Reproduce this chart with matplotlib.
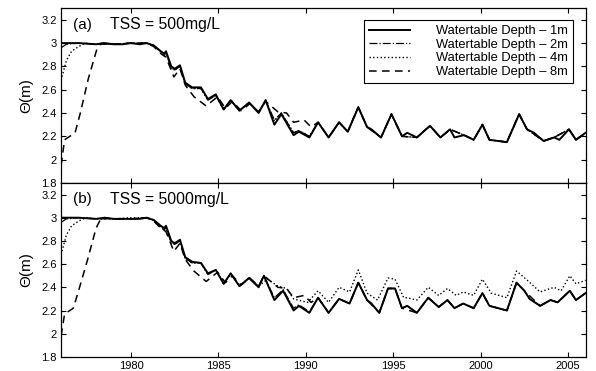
import matplotlib
matplotlib.use("Agg")
import matplotlib.pyplot as plt

plt.rcParams['font.family'] = ['Liberation Sans', 'DejaVu Sans']

# ---------------- data ----------------
# Panel (a) TSS = 500 mg/L
t_a_1m = [1976.0, 1977.0, 1978.0, 1978.5, 1979.0, 1979.5, 1980.0, 1980.5, 1980.9, 1981.3,
          1981.7, 1981.9, 1982.0, 1982.3, 1982.5, 1982.8, 1983.1, 1983.5, 1984.0, 1984.4,
          1984.85, 1985.3, 1985.7, 1986.2, 1986.75, 1987.3, 1987.7, 1988.2, 1988.6, 1989.3,
          1989.6, 1990.2, 1990.7, 1991.3, 1991.9, 1992.4, 1993.0, 1993.5, 1993.75, 1994.3,
          1994.9, 1995.5, 1995.8, 1996.35, 1997.1, 1997.7, 1998.25, 1998.5, 1999.05, 1999.6,
          2000.1, 2000.5, 2001.5, 2002.2, 2002.65, 2003.05, 2003.6, 2004.2, 2004.5, 2005.05,
          2005.45, 2006.0]
v_a_1m = [3.00, 3.00, 2.99, 3.00, 2.99, 2.99, 3.00, 2.99, 3.00, 2.98,
          2.93, 2.91, 2.93, 2.80, 2.78, 2.81, 2.66, 2.62, 2.62, 2.52,
          2.56, 2.43, 2.51, 2.42, 2.49, 2.40, 2.51, 2.30, 2.39, 2.21,
          2.24, 2.19, 2.32, 2.19, 2.32, 2.24, 2.45, 2.28, 2.26, 2.19,
          2.39, 2.20, 2.23, 2.19, 2.29, 2.19, 2.26, 2.19, 2.21, 2.17,
          2.30, 2.17, 2.15, 2.39, 2.26, 2.23, 2.16, 2.19, 2.17, 2.26,
          2.17, 2.23]

t_a_2m = [1976.0, 1976.3, 1977.0, 1978.0, 1979.0, 1980.0, 1980.9, 1981.3, 1981.7, 1981.9,
          1982.0, 1982.3, 1982.5, 1982.8, 1983.1, 1983.5, 1984.0, 1984.4, 1984.85, 1985.3,
          1985.7, 1986.2, 1986.75, 1987.3, 1987.7, 1988.2, 1988.6, 1989.3, 1989.6, 1990.2,
          1990.7, 1991.3, 1991.9, 1992.4, 1993.0, 1993.5, 1994.3, 1994.9, 1995.5, 1996.35,
          1997.1, 1997.7, 1998.25, 1999.05, 1999.6, 2000.1, 2000.5, 2001.5, 2002.2, 2002.65,
          2003.6, 2004.2, 2005.05, 2005.45, 2006.0]
v_a_2m = [2.96, 2.99, 3.00, 2.99, 2.99, 3.00, 3.00, 2.98, 2.92, 2.89,
          2.92, 2.78, 2.77, 2.80, 2.65, 2.61, 2.61, 2.51, 2.55, 2.43,
          2.51, 2.42, 2.49, 2.41, 2.51, 2.34, 2.40, 2.23, 2.25, 2.20,
          2.32, 2.19, 2.32, 2.24, 2.45, 2.28, 2.19, 2.39, 2.20, 2.19,
          2.29, 2.19, 2.26, 2.21, 2.17, 2.30, 2.17, 2.15, 2.39, 2.26,
          2.16, 2.19, 2.26, 2.17, 2.23]

t_a_4m = [1976.0, 1976.3, 1976.6, 1977.0, 1977.4, 1978.0, 1979.0, 1980.0, 1980.9, 1981.3,
          1981.7, 1981.9, 1982.0, 1982.3, 1982.5, 1982.8, 1983.1, 1983.5, 1984.0, 1984.4,
          1984.85, 1985.3, 1985.7, 1986.2, 1986.75, 1987.3, 1987.7, 1988.2, 1988.6, 1989.3,
          1989.6, 1990.2, 1990.7, 1991.3, 1991.9, 1992.4, 1993.0, 1993.5, 1994.3, 1994.9,
          1995.5, 1996.35, 1997.1, 1997.7, 1998.25, 1999.05, 1999.6, 2000.1, 2000.5, 2001.5,
          2002.2, 2002.65, 2003.6, 2004.2, 2005.05, 2005.45, 2006.0]
v_a_4m = [2.68, 2.85, 2.93, 2.97, 3.00, 2.99, 2.99, 3.00, 3.00, 2.98,
          2.93, 2.91, 2.93, 2.79, 2.77, 2.80, 2.65, 2.61, 2.61, 2.51,
          2.55, 2.43, 2.51, 2.42, 2.49, 2.41, 2.51, 2.33, 2.40, 2.23,
          2.25, 2.20, 2.32, 2.19, 2.32, 2.24, 2.45, 2.28, 2.19, 2.39,
          2.20, 2.19, 2.29, 2.19, 2.26, 2.21, 2.17, 2.30, 2.17, 2.15,
          2.39, 2.26, 2.16, 2.19, 2.26, 2.17, 2.23]

t_a_8m = [1976.0, 1976.2, 1976.5, 1976.8, 1977.1, 1977.55, 1978.05, 1978.3, 1979.0, 1980.0,
          1980.9, 1981.3, 1981.7, 1982.0, 1982.45, 1982.8, 1983.1, 1983.6, 1984.3, 1984.95,
          1985.4, 1985.8, 1986.3, 1986.8, 1987.3, 1987.7, 1988.4, 1988.9, 1989.3, 1989.9,
          1990.3, 1990.7, 1991.3, 1991.9, 1992.4, 1993.0, 1993.5, 1994.3, 1994.9, 1995.5,
          1996.35, 1997.1, 1997.7, 1998.25, 1999.05, 1999.6, 2000.1, 2000.5, 2001.5, 2002.2,
          2002.65, 2003.6, 2004.2, 2005.05, 2005.45, 2006.0]
v_a_8m = [1.95, 2.17, 2.20, 2.23, 2.40, 2.69, 2.95, 3.00, 2.99, 3.00,
          3.00, 2.97, 2.91, 2.88, 2.71, 2.78, 2.64, 2.54, 2.46, 2.54,
          2.44, 2.50, 2.42, 2.48, 2.41, 2.50, 2.41, 2.40, 2.32, 2.34,
          2.28, 2.32, 2.19, 2.32, 2.24, 2.45, 2.28, 2.19, 2.39, 2.20,
          2.19, 2.29, 2.19, 2.26, 2.21, 2.17, 2.30, 2.17, 2.15, 2.39,
          2.26, 2.16, 2.19, 2.26, 2.17, 2.23]

# Panel (b) TSS = 5000 mg/L
t_b_1m = [1976.0, 1977.0, 1978.0, 1978.5, 1979.0, 1979.5, 1980.0, 1980.5, 1980.9, 1981.3,
          1981.7, 1981.9, 1982.0, 1982.3, 1982.5, 1982.8, 1983.1, 1983.5, 1984.0, 1984.4,
          1984.85, 1985.3, 1985.7, 1986.2, 1986.75, 1987.3, 1987.6, 1988.2, 1988.7, 1989.3,
          1989.6, 1990.2, 1990.7, 1991.3, 1991.9, 1992.5, 1993.0, 1993.5, 1993.75, 1994.2,
          1994.7, 1995.1, 1995.5, 1995.8, 1996.35, 1997.0, 1997.6, 1998.1, 1998.5, 1999.0,
          1999.6, 2000.1, 2000.5, 2001.5, 2002.05, 2002.5, 2002.8, 2003.4, 2004.0, 2004.4,
          2005.1, 2005.45, 2006.0]
v_b_1m = [3.00, 3.00, 2.99, 3.00, 2.99, 2.99, 2.99, 2.99, 3.00, 2.98,
          2.93, 2.91, 2.93, 2.80, 2.78, 2.81, 2.66, 2.62, 2.61, 2.52,
          2.55, 2.43, 2.52, 2.41, 2.48, 2.40, 2.50, 2.29, 2.37, 2.20,
          2.24, 2.18, 2.31, 2.18, 2.30, 2.26, 2.44, 2.29, 2.26, 2.18,
          2.39, 2.39, 2.22, 2.24, 2.18, 2.31, 2.23, 2.29, 2.22, 2.26,
          2.22, 2.35, 2.24, 2.20, 2.44, 2.37, 2.30, 2.24, 2.29, 2.27,
          2.37, 2.29, 2.35]

t_b_2m = [1976.0, 1976.3, 1977.0, 1978.0, 1979.0, 1980.0, 1980.9, 1981.3, 1981.7, 1981.9,
          1982.0, 1982.3, 1982.5, 1982.8, 1983.1, 1983.5, 1984.0, 1984.4, 1984.85, 1985.3,
          1985.7, 1986.2, 1986.75, 1987.3, 1987.6, 1988.2, 1988.7, 1989.3, 1989.6, 1990.2,
          1990.7, 1991.3, 1991.9, 1992.5, 1993.0, 1993.5, 1993.75, 1994.2, 1994.7, 1995.1,
          1995.5, 1995.8, 1996.35, 1997.0, 1997.6, 1998.1, 1998.5, 1999.0, 1999.6, 2000.1,
          2000.5, 2001.5, 2002.05, 2002.5, 2002.8, 2003.4, 2004.0, 2004.4, 2005.1, 2005.45,
          2006.0]
v_b_2m = [2.96, 2.99, 3.00, 2.99, 2.99, 2.99, 3.00, 2.98, 2.92, 2.89,
          2.92, 2.78, 2.77, 2.80, 2.65, 2.61, 2.61, 2.51, 2.55, 2.43,
          2.52, 2.41, 2.48, 2.41, 2.50, 2.31, 2.38, 2.22, 2.25, 2.19,
          2.31, 2.18, 2.30, 2.26, 2.44, 2.29, 2.26, 2.18, 2.39, 2.39,
          2.22, 2.24, 2.18, 2.31, 2.23, 2.29, 2.22, 2.26, 2.22, 2.35,
          2.24, 2.20, 2.44, 2.37, 2.30, 2.24, 2.29, 2.27, 2.37, 2.29,
          2.35]

t_b_4m = [1976.0, 1976.3, 1976.6, 1977.0, 1977.4, 1978.0, 1979.0, 1980.0, 1980.9, 1981.3,
          1981.7, 1981.9, 1982.0, 1982.3, 1982.5, 1982.8, 1983.1, 1983.5, 1984.0, 1984.4,
          1984.85, 1985.3, 1985.7, 1986.2, 1986.75, 1987.3, 1987.8, 1988.4, 1988.9, 1989.3,
          1990.1, 1990.7, 1991.3, 1991.9, 1992.5, 1993.0, 1993.5, 1994.1, 1994.7, 1995.1,
          1995.6, 1995.8, 1996.35, 1997.0, 1997.6, 1998.1, 1998.6, 1999.0, 1999.6, 2000.1,
          2000.6, 2001.5, 2002.05, 2002.6, 2003.4, 2004.2, 2004.6, 2005.1, 2005.45, 2006.0]
v_b_4m = [2.68, 2.85, 2.93, 2.97, 3.00, 2.99, 2.99, 3.00, 3.00, 2.98,
          2.93, 2.91, 2.93, 2.79, 2.77, 2.80, 2.65, 2.61, 2.61, 2.51,
          2.55, 2.43, 2.52, 2.41, 2.48, 2.41, 2.47, 2.41, 2.39, 2.30,
          2.27, 2.37, 2.27, 2.40, 2.36, 2.55, 2.35, 2.29, 2.48, 2.47,
          2.31, 2.31, 2.29, 2.40, 2.33, 2.39, 2.33, 2.36, 2.33, 2.47,
          2.35, 2.31, 2.54, 2.47, 2.36, 2.40, 2.37, 2.50, 2.43, 2.46]

t_b_8m = [1976.0, 1976.2, 1976.5, 1976.7, 1977.0, 1977.5, 1978.0, 1978.3, 1979.0, 1980.0,
          1980.9, 1981.3, 1981.7, 1982.0, 1982.45, 1982.8, 1983.1, 1983.6, 1984.3, 1984.95,
          1985.4, 1985.8, 1986.3, 1986.8, 1987.3, 1987.6, 1988.4, 1988.9, 1989.3, 1989.9,
          1990.3, 1990.7, 1991.3, 1991.9, 1992.5, 1993.0, 1993.5, 1994.2, 1994.7, 1995.1,
          1995.5, 1996.35, 1997.0, 1997.6, 1998.1, 1998.5, 1999.0, 1999.6, 2000.1, 2000.5,
          2001.5, 2002.05, 2002.5, 2003.4, 2004.0, 2004.4, 2005.1, 2005.45, 2006.0]
v_b_8m = [1.98, 2.17, 2.20, 2.22, 2.37, 2.63, 2.91, 3.00, 2.99, 2.99,
          3.00, 2.97, 2.91, 2.88, 2.71, 2.78, 2.64, 2.54, 2.45, 2.53,
          2.44, 2.50, 2.42, 2.48, 2.41, 2.50, 2.40, 2.39, 2.31, 2.33,
          2.27, 2.31, 2.18, 2.30, 2.26, 2.44, 2.29, 2.18, 2.39, 2.39,
          2.22, 2.18, 2.31, 2.23, 2.29, 2.22, 2.26, 2.22, 2.35, 2.24,
          2.20, 2.44, 2.37, 2.24, 2.29, 2.27, 2.37, 2.29, 2.35]

labels = ['Watertable Depth \u2013 1m', 'Watertable Depth \u2013 2m',
          'Watertable Depth \u2013 4m', 'Watertable Depth \u2013 8m']
panel_titles = ['(a)', '(b)']
panel_tss = ['TSS = 500mg/L', 'TSS = 5000mg/L']
x_ticks = [1980, 1985, 1990, 1995, 2000, 2005]
y_ticks = [1.8, 2.0, 2.2, 2.4, 2.6, 2.8, 3.0, 3.2]
y_ticklabels = ['1.8', '2', '2.2', '2.4', '2.6', '2.8', '3', '3.2']

# ---------------- figure ----------------
fig = plt.figure(figsize=(5.96, 3.71), dpi=100)
ax_a = fig.add_axes([0.1025, 0.507, 0.880, 0.471])
ax_b = fig.add_axes([0.1025, 0.038, 0.880, 0.469])

styles = [dict(ls='-', lw=1.4), dict(ls='-.', lw=0.9), dict(ls=':', lw=1.0),
          dict(ls=(0, (5, 3.5)), lw=1.1)]

panels = [
    (ax_a, [(t_a_1m, v_a_1m), (t_a_2m, v_a_2m), (t_a_4m, v_a_4m), (t_a_8m, v_a_8m)]),
    (ax_b, [(t_b_1m, v_b_1m), (t_b_2m, v_b_2m), (t_b_4m, v_b_4m), (t_b_8m, v_b_8m)]),
]

order = [3, 2, 1, 0]
for i, (ax, series) in enumerate(panels):
    handles = [None] * 4
    for k in order:
        t, v = series[k]
        h, = ax.plot(t, v, color='black', label=labels[k], **styles[k])
        handles[k] = h
    ax.set_xlim(1976, 2006)
    ax.set_ylim(1.8, 3.3)
    ax.set_xticks(x_ticks)
    ax.set_yticks(y_ticks)
    ax.set_yticklabels(y_ticklabels)
    ax.tick_params(direction='in', top=True, right=True, length=3.5, width=0.8,
                   labelsize=8, pad=3)
    ax.set_ylabel('\u0398(m)', fontsize=11, labelpad=6)
    for sp in ax.spines.values():
        sp.set_linewidth(0.9)
    ax.text(0.022, 0.905, panel_titles[i], transform=ax.transAxes, fontsize=11,
            va='center', ha='left')
    ax.text(0.093, 0.905, panel_tss[i], transform=ax.transAxes, fontsize=11.3,
            va='center', ha='left')
    if i == 0:
        ax.tick_params(labelbottom=False)
        leg = ax.legend(handles=handles, loc='upper right',
                        bbox_to_anchor=(0.976, 0.932), borderaxespad=0,
                        fontsize=9.3, frameon=True, fancybox=False,
                        edgecolor='black', framealpha=1, handlelength=3.2,
                        handletextpad=2.0, labelspacing=0.12, borderpad=0.4)
        leg.get_frame().set_linewidth(0.8)

fig.savefig('out.png', dpi=100)
